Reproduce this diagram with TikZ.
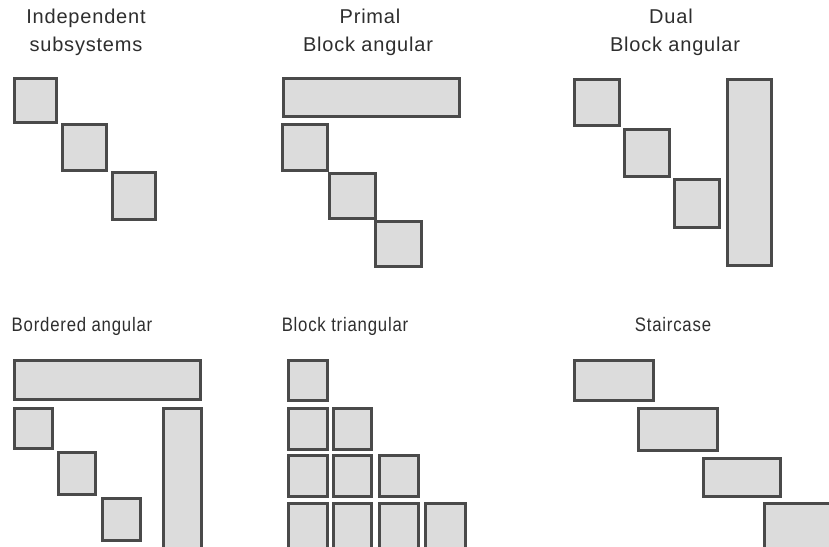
\documentclass[tikz,border=0pt]{standalone}
\usepackage{fontspec}
\setmainfont[LetterSpace=4]{Liberation Sans}
\newfontfamily\narrowsans[LetterSpace=4,FakeStretch=0.86]{Liberation Sans}
\definecolor{blkfill}{HTML}{DCDCDC}
\definecolor{blkline}{HTML}{4A4A4A}
\definecolor{txt}{HTML}{2E2E2E}
\tikzset{
  blk/.style={draw=blkline, fill=blkfill, line width=2.6pt},
  ttl/.style={anchor=base, inner sep=0pt, text=txt, font=\fontsize{20}{28}\selectfont},
  ttlb/.style={ttl, font=\narrowsans\fontsize{19.5}{24}\selectfont}
}
\newcommand{\blkrect}[4]{\draw[blk] (#1+1.3,#2+1.3) rectangle (#3-1.3,#4-1.3);}
\begin{document}
\begin{tikzpicture}[x=1pt,y=-1pt]
\useasboundingbox (0,0) rectangle (829,546);
\clip (0,0) rectangle (829,546);
\fill[white] (0,0) rectangle (829,546);
% titles row 1
\node[ttl] (t1a) at (86,23) {Independent};
\node[ttl] (t1b) at (86,51) {subsystems};
\node[ttl] (t2a) at (370,23) {Primal};
\node[ttl] (t2b) at (368,51) {Block angular};
\node[ttl] (t3a) at (671,23) {Dual};
\node[ttl] (t3b) at (675,51) {Block angular};
% titles row 2
\node[ttlb] (t4) at (82,331) {Bordered angular};
\node[ttlb] (t5) at (345,331) {Block triangular};
\node[ttlb] (t6) at (673,331) {Staircase};
% panel 1
\blkrect{13}{77}{58}{124}
\blkrect{61}{123}{108}{172}
\blkrect{111}{171}{157}{221}
% panel 2
\blkrect{282}{77}{461}{118}
\blkrect{281}{123}{329}{172}
\blkrect{328}{172}{377}{220}
\blkrect{374}{220}{423}{268}
% panel 3
\blkrect{573}{78}{621}{127}
\blkrect{623}{128}{671}{178}
\blkrect{673}{178}{721}{229}
\blkrect{726}{78}{773}{267}
% panel 4
\blkrect{13}{359}{202}{401}
\blkrect{13}{407}{54}{450}
\blkrect{57}{451}{97}{496}
\blkrect{101}{497}{142}{542}
\blkrect{162}{407}{203}{570}
% panel 5
\blkrect{287}{359}{329}{402}
\blkrect{287}{407}{329}{451}
\blkrect{332}{407}{373}{451}
\blkrect{287}{454}{329}{498}
\blkrect{332}{454}{373}{498}
\blkrect{378}{454}{420}{498}
\blkrect{287}{502}{329}{570}
\blkrect{332}{502}{373}{570}
\blkrect{378}{502}{420}{570}
\blkrect{424}{502}{467}{570}
% panel 6
\blkrect{573}{359}{655}{402}
\blkrect{637}{407}{719}{452}
\blkrect{702}{457}{782}{498}
\blkrect{763}{502}{860}{570}
\end{tikzpicture}
\end{document}
